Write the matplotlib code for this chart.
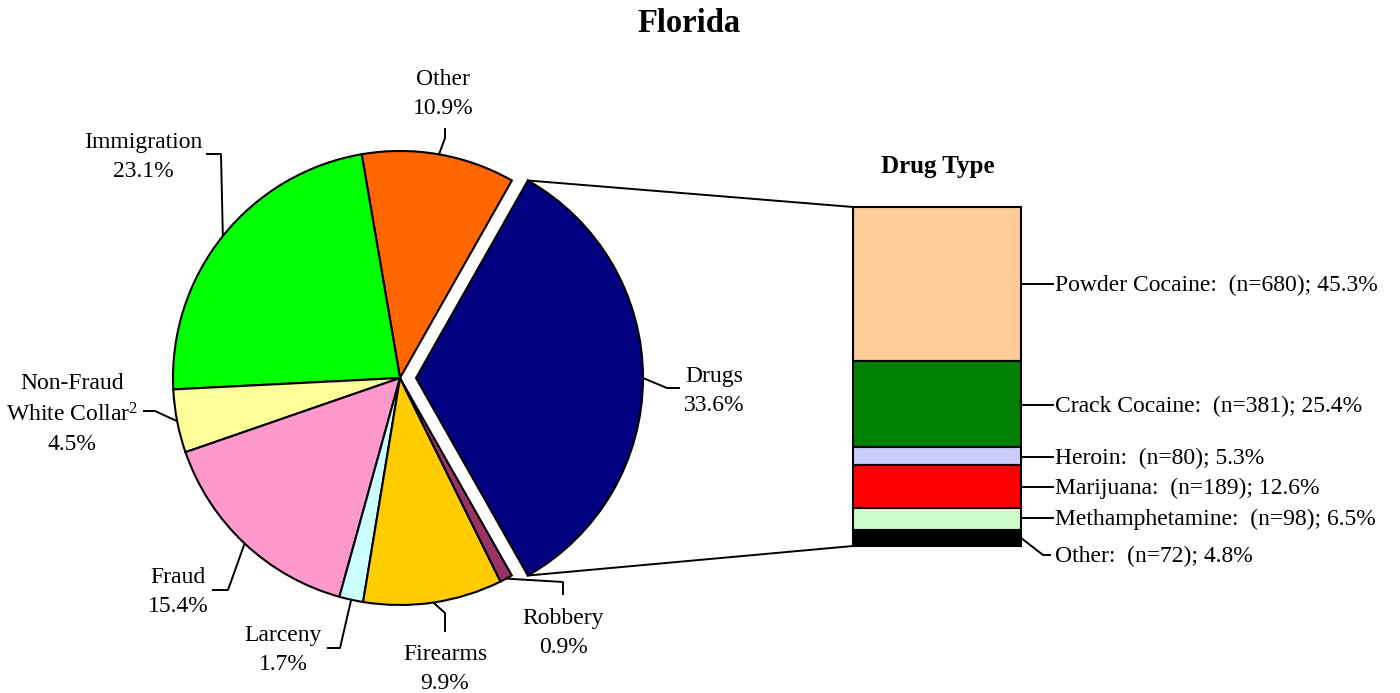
import numpy as np
import matplotlib
matplotlib.use('agg')
import matplotlib.pyplot as plt

plt.rcParams['mathtext.fontset'] = 'custom'
plt.rcParams['mathtext.rm'] = 'Liberation Serif'
plt.rcParams['mathtext.default'] = 'rm'

# offense shares (Florida), starting with Drugs, counterclockwise
offenses = ['Drugs', 'Other', 'Immigration', 'Non-Fraud\nWhite Collar$^2$', 'Fraud',
            'Larceny', 'Firearms', 'Robbery']
offense_pct = [33.6, 10.9, 23.1, 4.5, 15.4, 1.7, 9.9, 0.9]
offense_colors = ['#000080', '#FF6600', '#00FF00', '#FFFF99', '#FF99CC',
                  '#CCFFFF', '#FFCC00', '#993366']

# drug type breakdown, top to bottom
drug_types = ['Powder Cocaine', 'Crack Cocaine', 'Heroin', 'Marijuana',
              'Methamphetamine', 'Other']
drug_n = [680, 381, 80, 189, 98, 72]
drug_pct = [45.3, 25.4, 5.3, 12.6, 6.5, 4.8]
drug_colors = ['#FFCC99', '#008000', '#CCCCFF', '#FF0000', '#CCFFCC', '#000000']

W, H = 1400, 693
serif = 'Liberation Serif'
fs = 17

fig = plt.figure(figsize=(14, 6.93), dpi=100)
ax = fig.add_axes([0, 0, 1, 1])

def Y(y):
    return H - y

cx, cy, R = 400, Y(378), 227
total = sum(offense_pct)
start = -offense_pct[0] / total * 360 / 2
# explode is in data units here (pixels)
wedges, _ = ax.pie(offense_pct, colors=offense_colors, startangle=start,
                   counterclock=True, center=(cx, cy), radius=R,
                   explode=[16] + [0] * 7,
                   wedgeprops=dict(edgecolor='black', linewidth=1.5))
ax.set_xlim(0, W)
ax.set_ylim(0, H)
ax.set_aspect('auto')
ax.axis('off')

def edge_point(w, frac=1.0):
    a = np.deg2rad((w.theta1 + w.theta2) / 2)
    return (w.center[0] + w.r * frac * np.cos(a), w.center[1] + w.r * frac * np.sin(a))

# label text centre and leader path (elbow, end) in image pixels
label_pos = [(714, 391), (443, 94), (143, 157), (72, 414), (178, 592),
             (283, 650), (445, 669), (563, 633)]
leaders = [[(667, 388), (680, 388)],
           [(445, 138), (445, 128)],
           [(221, 154), (206, 154)],
           [(155, 411), (143, 411)],
           [(228, 590), (212, 590)],
           [(340, 648), (327, 648)],
           [(445, 613), (445, 632)],
           [(563, 582), (563, 595)]]
for w, name, pct, (tx, ty), path in zip(wedges, offenses, offense_pct, label_pos, leaders):
    ax.text(tx, Y(ty), f'{name}\n{pct}%', ha='center', va='center',
            fontsize=fs, family=serif, linespacing=1.5)
    x0, y0 = edge_point(w)
    xs = [x0] + [p[0] for p in path]
    ys = [y0] + [Y(p[1]) for p in path]
    ax.plot(xs, ys, color='black', lw=1.4, solid_capstyle='butt')

ax.text(689, Y(24), 'Florida', ha='center', va='center', fontsize=23.5,
        fontweight='bold', family=serif)
ax.text(938, Y(167), 'Drug Type', ha='center', va='center', fontsize=18,
        fontweight='bold', family=serif)

# stacked bar of drug types
bx = fig.add_axes([853 / W, (H - 546) / H, 168 / W, 339 / H])
dtotal = sum(drug_pct)
bottom = dtotal
mids = []
for v, c in zip(drug_pct, drug_colors):
    bottom -= v
    bx.bar(0, v, bottom=bottom, width=1, color=c, edgecolor='black',
           linewidth=1.5, clip_on=False)
    mids.append(bottom + v / 2)
bx.set_xlim(-0.5, 0.5)
bx.set_ylim(0, dtotal)
bx.axis('off')

def to_main(axis, x, y):
    return ax.transData.inverted().transform(axis.transData.transform((x, y)))

# connecting lines from drug wedge to bar
dw = wedges[0]
for ang, yb in [(dw.theta2, dtotal), (dw.theta1, 0)]:
    a = np.deg2rad(ang)
    px, py = dw.center[0] + dw.r * np.cos(a), dw.center[1] + dw.r * np.sin(a)
    qx, qy = to_main(bx, -0.5, yb)
    ax.plot([px, qx], [py, qy], color='black', lw=1.4)

# bar labels
label_y = [284, 405, 457, 487, 518, 555]
for name, n, p, m, ly in zip(drug_types, drug_n, drug_pct, mids, label_y):
    sx, sy = to_main(bx, 0.5, m)
    if abs(sy - Y(ly)) > 8:
        ax.plot([sx, 1043, 1050], [sy, Y(ly), Y(ly)], color='black', lw=1.4)
    else:
        ax.plot([sx, 1053], [Y(ly), Y(ly)], color='black', lw=1.4)
    ax.text(1055, Y(ly + 1), f'{name}:  (n={n}); {p}%', ha='left', va='center',
            fontsize=fs, family=serif)

fig.savefig('out.png', dpi=100)
